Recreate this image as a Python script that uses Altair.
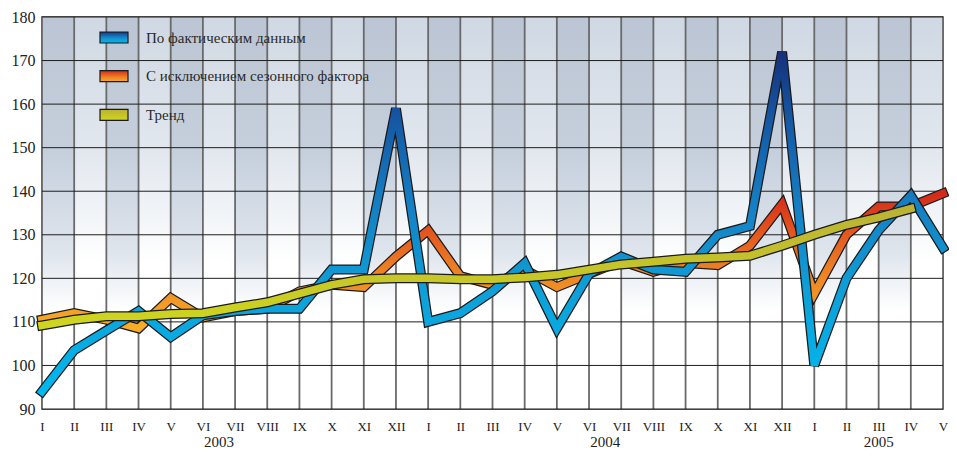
import altair as alt
import pandas as pd

# ---------------- data ----------------
month_labels = ["I", "II", "III", "IV", "V", "VI", "VII", "VIII", "IX", "X", "XI", "XII",
                "I", "II", "III", "IV", "V", "VI", "VII", "VIII", "IX", "X", "XI", "XII",
                "I", "II", "III", "IV", "V"]
point_years = [2003] * 12 + [2004] * 12 + [2005] * 5

actual = [94, 103.5, 108, 112.5, 106.5, 111.5, 112.5, 113, 113, 122, 122, 159,
          110, 112, 117, 123.5, 108.5, 121, 125, 122, 121.5, 130, 132, 172,
          100, 120, 131, 139, 127]
adjusted = [110.5, 112, 110.5, 108.5, 115.5, 111, 112.5, 113, 117, 118.5, 118, 125,
            131, 120.5, 118.5, 122, 118, 121, 124, 121.5, 123.5, 123, 127.5, 137,
            116.5, 130, 136.5, 136.5, 139.5]
trend = [109.2, 110.5, 111.3, 111.3, 111.8, 112, 113.3, 114.5, 116.5, 118.5, 119.8, 120,
         120, 119.8, 119.8, 120.2, 120.8, 122, 123.2, 123.8, 124.5, 124.8, 125.2, 127.5,
         130, 132.3, 134, 136, None]

series_names = ["По фактическим данным", "С исключением сезонного фактора", "Тренд"]
y_ticks = [90, 100, 110, 120, 130, 140, 150, 160, 170, 180]

FONT = "Liberation Serif"
W, H = 901, 392
n = len(month_labels)

x_scale = alt.Scale(domain=[0, n - 1], nice=False, zero=False)
y_scale = alt.Scale(domain=[y_ticks[0], y_ticks[-1]], nice=False, zero=False)

AX_X = alt.Axis(values=list(range(n)), title=None, grid=False, domain=False, ticks=False,
                labelExpr="[" + ",".join(f"'{m}'" for m in month_labels) + "][datum.value]",
                labelFont=FONT, labelFontSize=13, labelColor="#222", labelPadding=11,
                labelFlush=False, labelOverlap=False)
AX_Y = alt.Axis(values=y_ticks, title=None, grid=False, domain=False, ticks=False,
                labelFont=FONT, labelFontSize=16, labelColor="#222", labelPadding=7,
                labelFlush=False)

df = pd.DataFrame({"i": list(range(n)), "month": month_labels, "year": point_years,
                   "actual": actual, "adjusted": adjusted, "trend": trend})

# background columns
cols = pd.DataFrame({"x": list(range(n - 1)), "x2": list(range(1, n)),
                     "y": [y_ticks[0]] * (n - 1), "y2": [y_ticks[-1]] * (n - 1),
                     "dark": [k % 2 == 0 for k in range(n - 1)]})


def grad(stops):
    return alt.Gradient(gradient="linear", x1=0, x2=0, y1=0, y2=1,
                        stops=[alt.GradientStop(color=c, offset=o) for o, c in stops])


dark_grad = grad([(0, "#bbc5d3"), (0.35, "#c6d0dd"), (0.6, "#dfe5ed"), (0.75, "#ffffff"), (1, "#ffffff")])
light_grad = grad([(0, "#cfd8e3"), (0.35, "#e3e8ef"), (0.55, "#f6f8fa"), (0.62, "#ffffff"), (1, "#ffffff")])

X = alt.X("x:Q", scale=x_scale, axis=AX_X)
Y = alt.Y("y:Q", scale=y_scale, axis=AX_Y)

bg_dark = alt.Chart(cols).transform_filter("datum.dark").mark_rect(fill=dark_grad, strokeWidth=0).encode(
    x=X, x2="x2:Q", y=Y, y2="y2:Q")
bg_light = alt.Chart(cols).transform_filter("!datum.dark").mark_rect(fill=light_grad, strokeWidth=0).encode(
    x=X, x2="x2:Q", y=Y, y2="y2:Q")

# grid lines
vgrid = alt.Chart(df).mark_rule(color="#6a6a6a", strokeWidth=1.8).encode(
    x=alt.X("i:Q", scale=x_scale, axis=AX_X))
hgrid = alt.Chart(pd.DataFrame({"v": y_ticks})).mark_rule(color="#1e1e1e", strokeWidth=1).encode(
    y=alt.Y("v:Q", scale=y_scale, axis=AX_Y))

blue_grad = grad([(0, "#16307a"), (0.2, "#1558a4"), (0.45, "#157fc3"), (0.7, "#0f9fd8"), (1, "#00b8ee")])
orange_grad = grad([(0, "#d42a1a"), (0.25, "#e2501e"), (0.55, "#ec7f24"), (1, "#f6ae28")])
yellow_grad = grad([(0, "#bbb234"), (1, "#cfd61e")])


def ribbon(field, g):
    base = alt.Chart(df).transform_filter(f"isValid(datum.{field})").encode(
        x=alt.X("i:Q", scale=x_scale, axis=AX_X),
        y=alt.Y(f"{field}:Q", scale=y_scale, axis=AX_Y),
        order="i:Q")
    outline = base.mark_line(color="#1a1a1a", strokeWidth=10, strokeJoin="miter",
                             strokeMiterLimit=3, strokeCap="square")
    fill = base.mark_line(stroke=g, strokeWidth=7.5, strokeJoin="miter",
                          strokeMiterLimit=3, strokeCap="square")
    return outline + fill


orange_line = ribbon("adjusted", orange_grad)
blue_line = ribbon("actual", blue_grad)
trend_line = ribbon("trend", yellow_grad)

# year labels centred under their months
years_df = df.groupby("year", as_index=False)["i"].mean()
years_df["label"] = years_df["year"].astype(str)
year_text = alt.Chart(years_df).mark_text(font=FONT, fontSize=15, color="#222", baseline="middle").encode(
    x=alt.X("i:Q", scale=x_scale, axis=AX_X),
    y=alt.value(H + 33),
    text="label:N")

# legend
legend_layers = []
for k, (name, g) in enumerate(zip(series_names, [blue_grad, orange_grad, yellow_grad])):
    y0 = 15 + 38.7 * k
    leg_df = pd.DataFrame({"name": [name]})
    sw = alt.Chart(leg_df).mark_rect(fill=g, stroke="#1a1a1a", strokeWidth=1.2).encode(
        x=alt.value(58), x2=alt.value(86), y=alt.value(y0), y2=alt.value(y0 + 11))
    tx = alt.Chart(leg_df).mark_text(font=FONT, fontSize=15, color="#2a2a2a", align="left",
                                     baseline="middle").encode(
        x=alt.value(104), y=alt.value(y0 + 5.5), text="name:N")
    legend_layers += [sw, tx]

chart = alt.layer(bg_dark, bg_light, vgrid, hgrid, orange_line, blue_line, trend_line,
                  year_text, *legend_layers).properties(
    width=W, height=H,
    autosize=alt.AutoSizeParams(type="none"),
    padding={"left": 34, "top": 9, "right": 6, "bottom": 41},
    background="white",
).configure_view(stroke="#333333", strokeWidth=1.5)

chart.save("out.html", embed_options={"renderer": "svg", "actions": False})
